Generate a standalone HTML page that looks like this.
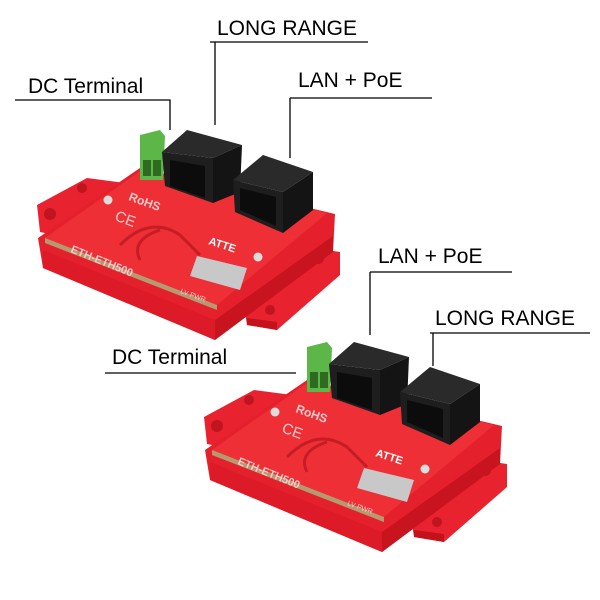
<!DOCTYPE html>
<html><head><meta charset="utf-8"><style>
html,body{margin:0;padding:0;background:#fff;width:600px;height:600px;overflow:hidden}
svg{display:block}
text{font-family:"Liberation Sans",sans-serif}
</style></head><body>
<svg width="600" height="600" viewBox="0 0 600 600" xmlns="http://www.w3.org/2000/svg">
<defs>
<g id="board">
  <!-- flanges -->
  <polygon points="37,205 87,178 125,183 125,200 60,236 40,232" fill="#e8222f"/>
  <circle cx="50" cy="214" r="6" fill="#c0141f"/>
  <circle cx="82" cy="188" r="5" fill="#c0141f"/>
  <polygon points="243,300 300,246 340,252 340,275 277,330 247,325" fill="#e8222f"/>
  <polygon points="247,318 277,322 277,330 247,325" fill="#c4121d"/>
  <circle cx="318" cy="258" r="6" fill="#c0141f"/>
  <circle cx="270" cy="310" r="5" fill="#c0141f"/>
  <!-- enclosure -->
  <polygon points="38,238 140,168 335,214 333,252 215,340 43,268" fill="#e5202d"/>
  <polygon points="43,250 215,320 215,340 43,268" fill="#dc1a28"/>
  <polygon points="215,320 333,236 333,252 215,340" fill="#c8141f"/>
  <!-- pcb -->
  <polygon points="45,238 140,171 327,213 217,305" fill="#ee2f35"/>
  <polygon points="45,238 217,305 217,310 45,243" fill="#b59a70"/>
  <path d="M120,245 q30,-30 60,-10 l20,20 M140,260 q-10,-20 20,-30" stroke="#c41d24" stroke-width="3" fill="none"/>
  <!-- terminal -->
  <polygon points="140,135 160,130 165,136 163,180 140,180" fill="#5cb748"/>
  <rect x="143" y="160" width="8" height="16" fill="#2f6a22"/>
  <rect x="153" y="160" width="8" height="16" fill="#2f6a22"/>
  <!-- jack1 -->
  <polygon points="162,152 187,130 242,145 213,158" fill="#2a2a2a"/>
  <polygon points="213,158 242,145 240,192 213,203" fill="#141414"/>
  <polygon points="162,152 213,158 213,203 165,186" fill="#1e1e1e"/>
  <polygon points="170,160 205,166 205,198 170,186" fill="#0c0c0c"/>
  <!-- jack2 -->
  <polygon points="233,180 263,155 313,172 283,192" fill="#2a2a2a"/>
  <polygon points="283,192 313,172 313,210 283,233" fill="#141414"/>
  <polygon points="233,180 283,192 283,233 235,212" fill="#1e1e1e"/>
  <polygon points="240,188 276,197 276,226 240,210" fill="#0c0c0c"/>
  <!-- silkscreen -->
  <text x="128" y="200" fill="#f6c9c9" font-size="12" font-weight="bold" transform="rotate(20 128 200)">RoHS</text>
  <text x="114" y="220" fill="#f6c9c9" font-size="15" transform="rotate(20 114 220)">CE</text>
  <text x="70" y="252" fill="#f6c9c9" font-size="11" font-weight="bold" transform="rotate(22 70 252)">ETH-ETH500</text>
  <text x="208" y="244" fill="#fff" font-size="11" font-weight="bold" transform="rotate(18 208 244)">ATTE</text>
  <polygon points="197,256 247,268 240,290 190,276" fill="#c8c8c8"/>
  <circle cx="108" cy="200" r="4.5" fill="#ddd"/>
  <circle cx="258" cy="257" r="4.5" fill="#ddd"/>
  <text x="180" y="293" fill="#f6c9c9" font-size="7" transform="rotate(20 180 293)">LV PWR</text>
</g>
</defs>
<use href="#board"/>
<use href="#board" transform="translate(167,212)"/>
<g stroke="#000" stroke-width="1.3" fill="none">
  <polyline points="210,42 368,42"/><polyline points="215,42 215,125"/>
  <polyline points="15,100 170,100 170,130"/>
  <polyline points="290,98 432,98"/><polyline points="290,98 290,158"/>
  <polyline points="370,272 512,272"/><polyline points="370,272 370,335"/>
  <polyline points="430,333 590,333"/><polyline points="433,333 433,366"/>
  <polyline points="105,373 296,373"/>
</g>
<g font-size="21" fill="#000">
  <text x="217" y="35">LONG RANGE</text>
  <text x="28" y="93">DC Terminal</text>
  <text x="298" y="87">LAN + PoE</text>
  <text x="378" y="263">LAN + PoE</text>
  <text x="435" y="325">LONG RANGE</text>
  <text x="112" y="364">DC Terminal</text>
</g>
</svg>
</body></html>
